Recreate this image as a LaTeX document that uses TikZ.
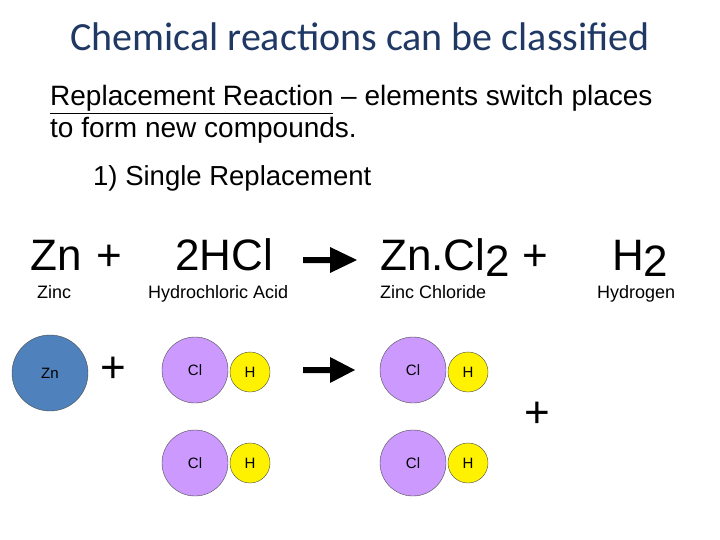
\documentclass[tikz,border=0pt]{standalone}
\usepackage{fontspec}
\setmainfont{Liberation Sans}
\newfontfamily\calib{Carlito}
\begin{document}
\begin{tikzpicture}[x=1pt,y=-1pt,
  txt/.style={inner sep=0pt,anchor=base west},
  big/.style={txt,font=\fontsize{44}{48}\selectfont},
  lab/.style={txt,font=\fontsize{18}{20}\selectfont},
  cl/.style={circle,draw=black!70,fill={rgb,255:red,204;green,153;blue,255},minimum size=66pt,inner sep=0pt,font=\fontsize{15}{17}\selectfont},
  hy/.style={circle,draw=black!70,fill=yellow,minimum size=40pt,inner sep=0pt,font=\fontsize{15}{17}\selectfont}]
\useasboundingbox (0,0) rectangle (720,540);
\node[inner sep=0pt,font=\calib\fontsize{40}{44}\selectfont,text={rgb,255:red,31;green,56;blue,100}] (title) at (360,37) {Chemical reactions can be classified};
\node[txt,font=\fontsize{28}{32}\selectfont] (l1) at (50,106) {\underline{Replacement Reaction} -- elements switch places};
\node[txt,font=\fontsize{28}{32}\selectfont] (l2) at (50,138) {to form new compounds.};
\node[txt,font=\fontsize{27.5}{32}\selectfont] (l3) at (93,186) {1) Single Replacement};
% equation
\node[big] (zn) at (30,270) {Zn};
\node[big] (p1) at (96,270) {+};
\node[big] (hcl) at (175,270) {2HCl};
\node[big] (zncl) at (380,270) {Zn.Cl\raisebox{-6pt}{2}};
\node[big] (p2) at (522,270) {+};
\node[big] (h2) at (612,270) {H\raisebox{-6pt}{2}};
\node[lab] (a1) at (37,298) {Zinc};
\node[lab] (a2) at (148,298) {Hydrochloric Acid};
\node[lab] (a3) at (380,298) {Zinc Chloride};
\node[lab] (a4) at (597,298) {Hydrogen};
\fill (303,257) -- (330,257) -- (330,247) -- (357,260) -- (330,273) -- (330,263) -- (303,263) -- cycle;
% atoms
\node[circle,draw=black!70,fill={rgb,255:red,79;green,129;blue,189},minimum size=76pt,inner sep=0pt,font=\fontsize{15}{17}\selectfont] (znA) at (50,373) {Zn};
\node[big] (p3) at (100,382) {+};
\node[cl] (c1) at (195,370) {Cl};
\node[hy] (h1) at (250,372) {H};
\node[cl] (c2) at (195,463) {Cl};
\node[hy] (h2a) at (250,463) {H};
\fill (303,367) -- (330,367) -- (330,357) -- (355,370) -- (330,383) -- (330,373) -- (303,373) -- cycle;
\node[cl] (c3) at (413,370) {Cl};
\node[hy] (h3) at (468,372) {H};
\node[cl] (c4) at (413,463) {Cl};
\node[hy] (h4) at (468,463) {H};
\node[big] (p4) at (524,427) {+};
\end{tikzpicture}
\end{document}
